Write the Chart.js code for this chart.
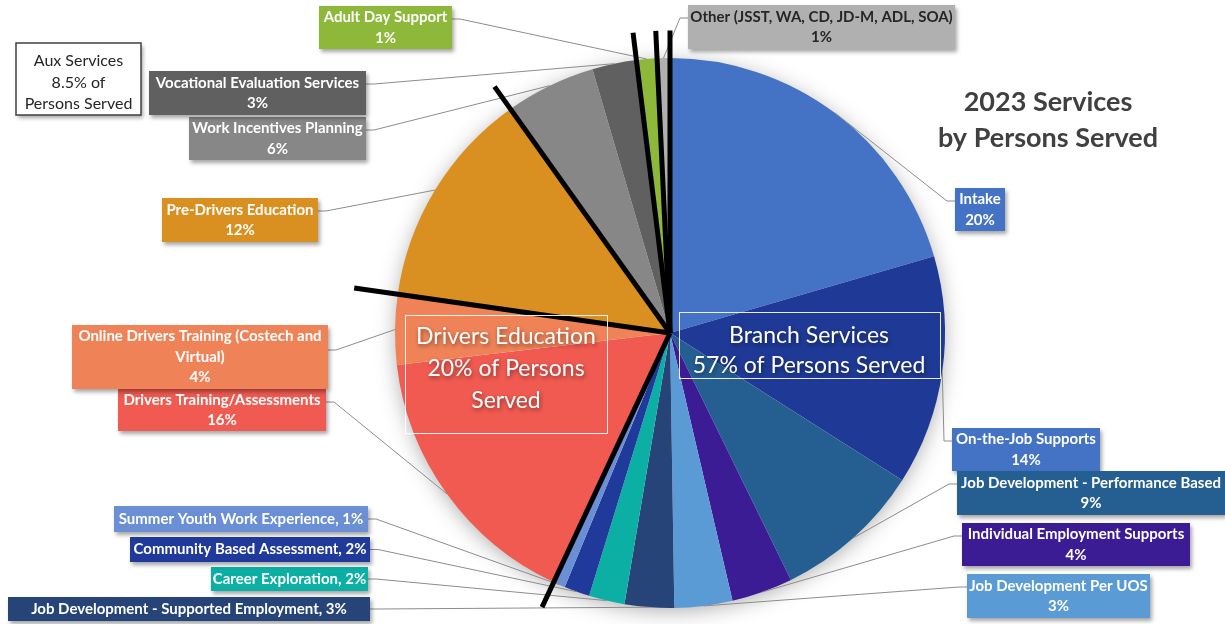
<!DOCTYPE html>
<html>
<head>
<meta charset="utf-8">
<script src="https://cdn.jsdelivr.net/npm/chart.js@4.4.0/dist/chart.umd.min.js"></script>
<style>
  body { margin: 0; background: #fff; }
  #wrap { width: 1225px; height: 624px; position: relative; }
</style>
</head>
<body>
<div id="wrap"><canvas id="pie" width="1225" height="624"></canvas></div>
<script>
// Data (slice sizes in % of persons served)
const categories = ['Intake', 'On-the-Job Supports', 'Job Development - Performance Based',
    'Individual Employment Supports', 'Job Development Per UOS', 'Job Development - Supported Employment',
    'Career Exploration', 'Community Based Assessment', 'Summer Youth Work Experience',
    'Drivers Training/Assessments', 'Online Drivers Training (Costech and Virtual)', 'Pre-Drivers Education',
    'Work Incentives Planning', 'Vocational Evaluation Services', 'Adult Day Support',
    'Other (JSST, WA, CD, JD-M, ADL, SOA)'];
const values = [20.5, 13.5, 8.75, 3.6, 3.4, 2.9, 2.1, 1.5, 0.7, 16.2, 4.1, 12.9, 5.3, 2.6, 1.2, 0.75];
const pctLabels = ['20%', '14%', '9%', '4%', '3%', '3%', '2%', '2%', '1%', '16%', '4%', '12%', '6%', '3%', '1%', '1%'];
const colors = ['#4472C4', '#1F3A96', '#255E91', '#3B1C94', '#5B9BD5', '#264478', '#0BAFA4', '#1F3A9A',
    '#6A8FD4', '#F05A50', '#F08257', '#DA9020', '#878787', '#606060', '#8DB83A', '#B0B0B0'];
const groupNames = ['Branch Services', 'Drivers Education', 'Aux Services'];
const groupShares = ['57%', '20%', '8.5%'];
const titleLines = ['2023 Services', 'by Persons Served'];

// slices after which a thick black divider is drawn
const dividerAfter = [8, 10, 11, 13, 14, 15];

// label boxes (layout only)
const boxes = [
    {x: 955, y: 188, w: 50, h: 43},
    {x: 952, y: 428, w: 148, h: 43, bg: '#4472C4'},
    {x: 957, y: 471, w: 268, h: 44},
    {x: 962, y: 523, w: 228, h: 43},
    {x: 967, y: 574, w: 183, h: 44},
    {x: 8, y: 597, w: 362, h: 24, one: true},
    {x: 211, y: 567, w: 157, h: 24, one: true},
    {x: 130, y: 537, w: 240, h: 25, one: true},
    {x: 114, y: 506, w: 254, h: 26, one: true},
    {x: 118, y: 389, w: 208, h: 42},
    {x: 72, y: 325, w: 256, h: 64, wrap: 'Online Drivers Training (Costech and|Virtual)', attach: 25},
    {x: 162, y: 198, w: 156, h: 44},
    {x: 189, y: 117, w: 177, h: 43},
    {x: 149, y: 71, w: 217, h: 44},
    {x: 319, y: 6, w: 133, h: 43},
    {x: 688, y: 5, w: 267, h: 44, fg: '#262626'}
];

const FONT = 'Lato, "Open Sans", sans-serif';

function shadowRect(ctx, x, y, w, h, fill) {
    ctx.save();
    ctx.shadowColor = 'rgba(0,0,0,0.35)';
    ctx.shadowBlur = 4;
    ctx.shadowOffsetX = 2;
    ctx.shadowOffsetY = 3;
    ctx.fillStyle = fill;
    ctx.fillRect(x, y, w, h);
    ctx.restore();
}

const labelPlugin = {
    id: 'labels',
    beforeDatasetsDraw(chart) {
        const ctx = chart.ctx;
        const a = chart.getDatasetMeta(0).data[0];
        ctx.save();
        ctx.shadowColor = 'rgba(0,0,0,0.35)';
        ctx.shadowBlur = 22;
        ctx.shadowOffsetY = 4;
        ctx.beginPath();
        ctx.arc(a.x, a.y, a.outerRadius - 2, 0, Math.PI * 2);
        ctx.fillStyle = '#fff';
        ctx.fill();
        ctx.restore();
    },
    afterDatasetsDraw(chart) {
        const ctx = chart.ctx;
        const arcs = chart.getDatasetMeta(0).data;
        const cx = arcs[0].x, cy = arcs[0].y, R = arcs[0].outerRadius;

        // leader lines
        ctx.save();
        ctx.strokeStyle = '#8c8c8c';
        ctx.lineWidth = 1;
        arcs.forEach(function (arc, i) {
            const b = boxes[i];
            const mid = (arc.startAngle + arc.endAngle) / 2;
            const px = cx + Math.cos(mid) * R, py = cy + Math.sin(mid) * R;
            const left = b.x + b.w / 2 < cx;
            const ay = b.y + (b.attach || (b.one ? b.h / 2 : 13));
            const ax = left ? b.x + b.w : b.x;
            const ex = left ? ax + 8 : ax - 8;
            ctx.beginPath();
            ctx.moveTo(ax, ay);
            ctx.lineTo(ex, ay);
            ctx.lineTo(px, py);
            ctx.stroke();
        });
        ctx.restore();

        // black dividers
        ctx.save();
        ctx.strokeStyle = '#000';
        ctx.lineWidth = 5;
        ctx.lineCap = 'butt';
        dividerAfter.forEach(function (i) {
            const ang = arcs[i].endAngle;
            const len = i === 10 ? R * 1.16 : R * 1.1;
            ctx.beginPath();
            ctx.moveTo(cx, cy);
            ctx.lineTo(cx + Math.cos(ang) * len, cy + Math.sin(ang) * len);
            ctx.stroke();
        });
        ctx.restore();

        // group boxes on the pie
        ctx.save();
        ctx.strokeStyle = 'rgba(255,255,255,0.9)';
        ctx.lineWidth = 1;
        ctx.strokeRect(405.5, 315.5, 202, 118);
        ctx.strokeRect(679.5, 312.5, 261, 66);
        ctx.fillStyle = '#fff';
        ctx.textAlign = 'center';
        ctx.textBaseline = 'middle';
        ctx.font = '23px ' + FONT;
        ctx.shadowColor = 'rgba(0,0,0,0.45)';
        ctx.shadowBlur = 4;
        ctx.shadowOffsetX = 1;
        ctx.shadowOffsetY = 2;
        ctx.fillText(groupNames[1], 506, 337);
        ctx.fillText(groupShares[1] + ' of Persons', 506, 369);
        ctx.fillText('Served', 506, 401);
        ctx.fillText(groupNames[0], 809, 336);
        ctx.fillText(groupShares[0] + ' of Persons Served', 809, 366);
        ctx.restore();

        // aux group box
        shadowRect(ctx, 16, 43, 125, 72, '#fff');
        ctx.save();
        ctx.strokeStyle = '#404040';
        ctx.lineWidth = 1.5;
        ctx.strokeRect(16, 43, 125, 72);
        ctx.fillStyle = '#262626';
        ctx.font = '16px ' + FONT;
        ctx.textAlign = 'center';
        ctx.textBaseline = 'middle';
        ctx.fillText(groupNames[2], 78.5, 61);
        ctx.fillText(groupShares[2] + ' of', 78.5, 83);
        ctx.fillText('Persons Served', 78.5, 104);
        ctx.restore();

        // slice label boxes
        boxes.forEach(function (b, i) {
            shadowRect(ctx, b.x, b.y, b.w, b.h, b.bg || colors[i]);
            ctx.save();
            ctx.fillStyle = b.fg || '#fff';
            ctx.font = 'bold 15px ' + FONT;
            ctx.textAlign = 'center';
            ctx.textBaseline = 'middle';
            const mx = b.x + b.w / 2;
            let lines;
            if (b.one) lines = [categories[i] + ', ' + pctLabels[i]];
            else if (b.wrap) lines = b.wrap.split('|').concat([pctLabels[i]]);
            else lines = [categories[i], pctLabels[i]];
            const step = 20.5;
            const top = b.y + b.h / 2 - (lines.length - 1) * step / 2;
            lines.forEach(function (t, k) { ctx.fillText(t, mx, top + k * step); });
            ctx.restore();
        });

        // title
        ctx.save();
        ctx.fillStyle = '#404040';
        ctx.font = 'bold 27px ' + FONT;
        ctx.textAlign = 'center';
        ctx.textBaseline = 'middle';
        ctx.fillText(titleLines[0], 1048, 102);
        ctx.fillText(titleLines[1], 1048, 138);
        ctx.restore();
    }
};

new Chart(document.getElementById('pie'), {
    type: 'pie',
    data: {
        labels: categories,
        datasets: [{
            data: values,
            backgroundColor: colors,
            borderWidth: 0
        }]
    },
    options: {
        responsive: false,
        animation: false,
        layout: { padding: { left: 395, right: 280, top: 58, bottom: 16 } },
        plugins: {
            legend: { display: false },
            tooltip: { enabled: false }
        }
    },
    plugins: [labelPlugin]
});
</script>
</body>
</html>
